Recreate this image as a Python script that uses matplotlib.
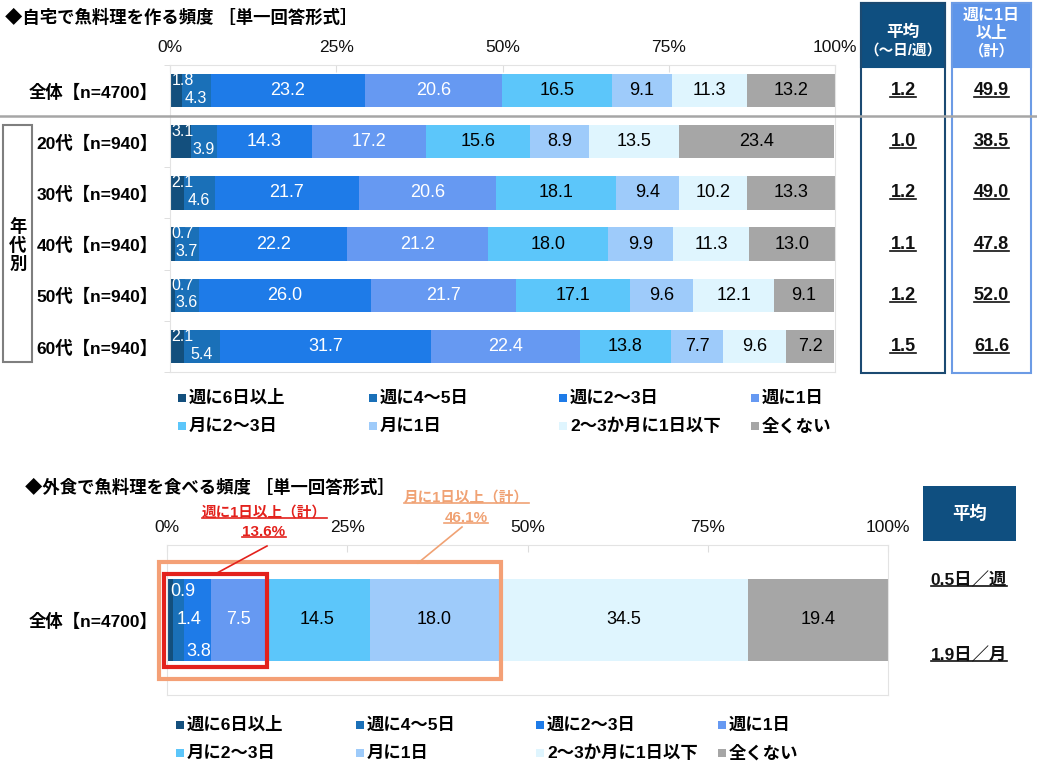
import numpy as np
import matplotlib
matplotlib.use('Agg')
import matplotlib.pyplot as plt
from matplotlib.patches import Rectangle
from matplotlib.lines import Line2D

plt.rcParams['font.family'] = ['Liberation Sans', 'Noto Sans CJK JP', 'DejaVu Sans']

# --- data ---
categories = ['週に6日以上', '週に4～5日', '週に2～3日', '週に1日',
              '月に2～3日', '月に1日', '2～3か月に1日以下', '全くない']
colors = ['#134F7D', '#1A70B8', '#1E7BE8', '#6699F2',
          '#5CC6FA', '#9ECBFA', '#DFF5FE', '#A6A6A6']

home_groups = ['全体【n=4700】', '20代【n=940】', '30代【n=940】',
               '40代【n=940】', '50代【n=940】', '60代【n=940】']
home_values = np.array([
    [1.8, 4.3, 23.2, 20.6, 16.5, 9.1, 11.3, 13.2],
    [3.1, 3.9, 14.3, 17.2, 15.6, 8.9, 13.5, 23.4],
    [2.1, 4.6, 21.7, 20.6, 18.1, 9.4, 10.2, 13.3],
    [0.7, 3.7, 22.2, 21.2, 18.0, 9.9, 11.3, 13.0],
    [0.7, 3.6, 26.0, 21.7, 17.1, 9.6, 12.1, 9.1],
    [2.1, 5.4, 31.7, 22.4, 13.8, 7.7, 9.6, 7.2],
])
home_avg = ['1.2', '1.0', '1.2', '1.1', '1.2', '1.5']
home_weekly = ['49.9', '38.5', '49.0', '47.8', '52.0', '61.6']

eat_group = ['全体【n=4700】']
eat_values = np.array([0.9, 1.4, 3.8, 7.5, 14.5, 18.0, 34.5, 19.4])
eat_weekly_total = 13.6
eat_monthly_total = 46.1
eat_avg = ['0.5日／週', '1.9日／月']

ticks = [0, 25, 50, 75, 100]
tick_labels = ['0%', '25%', '50%', '75%', '100%']

W, H = 1037, 770
fig = plt.figure(figsize=(W / 100, H / 100), dpi=100)


def fx(x):
    return x / W


def fy(y):
    return 1 - y / H


def ftext(x, y, s, **kw):
    return fig.text(fx(x), fy(y), s, **kw)


def frect(x0, y0, x1, y1, **kw):
    r = Rectangle((fx(x0), fy(y1)), fx(x1) - fx(x0), (y1 - y0) / H,
                  transform=fig.transFigure, **kw)
    fig.add_artist(r)
    return r


def fline(x0, y0, x1, y1, **kw):
    fig.add_artist(Line2D([fx(x0), fx(x1)], [fy(y0), fy(y1)],
                          transform=fig.transFigure, **kw))


underlined = []


def style_axis(ax):
    for s in ax.spines.values():
        s.set_color('#E3E3E3')
        s.set_linewidth(0.8)
    ax.set_xlim(0, 100)
    ax.xaxis.tick_top()
    ax.set_xticks(ticks)
    ax.set_xticklabels(tick_labels, fontsize=12.5, color='#111111')
    ax.tick_params(axis='x', direction='in', length=5, color='#DDDDDD', pad=7)


# --- top chart ---
ax1 = fig.add_axes([fx(170), fy(372), (835 - 170) / W, (372 - 65) / H])
style_axis(ax1)
y = np.arange(len(home_groups))
left = np.zeros(len(home_groups))
for i, cat in enumerate(categories):
    ax1.barh(y, home_values[:, i], left=left, height=0.65, color=colors[i],
             label=cat, zorder=2)
    tc = 'white' if i < 4 else 'black'
    for r in range(len(home_groups)):
        v = home_values[r, i]
        if i == 0:
            ax1.text(left[r] + 0.2, r - 0.2, f'{v:.1f}', ha='left', va='center',
                     color=tc, fontsize=11.5, zorder=3)
        elif i == 1:
            ax1.text(left[r] + v / 2, r + 0.15, f'{v:.1f}', ha='center', va='center',
                     color=tc, fontsize=11.5, zorder=3)
        else:
            ax1.text(left[r] + v / 2, r, f'{v:.1f}', ha='center', va='center',
                     color=tc, fontsize=13, zorder=3)
    left += home_values[:, i]
ax1.set_ylim(len(home_groups) - 0.5, -0.5)
ax1.set_yticks(y)
ax1.set_yticklabels(home_groups, fontsize=12.5, fontweight='bold')
ax1.set_yticks(np.arange(len(home_groups) + 1) - 0.5, minor=True)
ax1.tick_params(axis='y', which='major', length=0, pad=9)
ax1.tick_params(axis='y', which='minor', length=4, color='#D9D9D9')

ftext(5, 17, '◆自宅で魚料理を作る頻度 ［単一回答形式］', fontsize=12.5,
      fontweight='bold', va='center')

# group box
frect(3, 125, 32, 362, fill=False, edgecolor='#7F7F7F', lw=1.5)
ftext(18, 245, '年\n代\n別', ha='center', va='center', fontsize=12.5,
      fontweight='bold', linespacing=1.15)

# right-hand columns
col1 = (861, 945)
col2 = (952, 1031)
frect(col1[0], 3, col1[1], 67, facecolor='#0F4F80', edgecolor='#0F4F80', lw=1.5)
frect(col1[0], 3, col1[1], 373, fill=False, edgecolor='#1B4A72', lw=1.5)
frect(col2[0], 3, col2[1], 67, facecolor='#5E95EA', edgecolor='#5E95EA', lw=1.5)
frect(col2[0], 3, col2[1], 373, fill=False, edgecolor='#6C9BE5', lw=1.5)
ftext(sum(col1) / 2, 32, '平均', ha='center', va='center', color='white',
      fontsize=12, fontweight='bold')
ftext(sum(col1) / 2, 51, '（～日/週）', ha='center', va='center', color='white',
      fontsize=10.5, fontweight='bold')
ftext(sum(col2) / 2, 15, '週に1日', ha='center', va='center', color='white',
      fontsize=11.5, fontweight='bold')
ftext(sum(col2) / 2, 33, '以上', ha='center', va='center', color='white',
      fontsize=11.5, fontweight='bold')
ftext(sum(col2) / 2, 51, '（計）', ha='center', va='center', color='white',
      fontsize=11, fontweight='bold')

for r in range(len(home_groups)):
    ypx = 65 + (r + 0.5) * (372 - 65) / len(home_groups)
    underlined.append((ftext(sum(col1) / 2, ypx, home_avg[r], ha='center', va='center',
                             fontsize=13, fontweight='bold', color='#111111'), '#111111'))
    underlined.append((ftext(sum(col2) / 2, ypx, home_weekly[r], ha='center', va='center',
                             fontsize=13, fontweight='bold', color='#111111'), '#111111'))

# separator under 全体
fline(0, 116, W, 116, color='#A6A6A6', lw=1.8, zorder=5)


def legend_block(xs, ys):
    for i, cat in enumerate(categories):
        x = xs[i % 4]
        yy = ys[i // 4]
        frect(x - 4, yy - 4, x + 4, yy + 4, facecolor=colors[i], edgecolor='none')
        ftext(x + 7, yy, cat, ha='left', va='center', fontsize=12.5, fontweight='bold')


legend_block([182, 373, 563, 755], [398, 426])

# --- bottom chart ---
ax2 = fig.add_axes([fx(167), fy(695), (888 - 167) / W, (695 - 545) / H])
style_axis(ax2)
start = 0.0
for i, cat in enumerate(categories):
    v = eat_values[i]
    ax2.barh([0], [v], left=start, height=0.55, color=colors[i], zorder=2)
    tc = 'white' if i < 4 else 'black'
    if i < 3:
        ax2.text(start + 0.4, [-0.19, 0.0, 0.21][i], f'{v:.1f}', ha='left',
                 va='center', color=tc, fontsize=13, zorder=3)
    else:
        ax2.text(start + v / 2, 0, f'{v:.1f}', ha='center', va='center',
                 color=tc, fontsize=13, zorder=3)
    start += v
ax2.set_ylim(0.5, -0.5)
ax2.set_yticks([0])
ax2.set_yticklabels(eat_group, fontsize=12.5, fontweight='bold')
ax2.tick_params(axis='y', length=0, pad=7)

cum = np.cumsum(eat_values)
# highlight boxes
ax2.add_patch(Rectangle((-1.1, -0.39), cum[5] + 1.1 + 0.2, 0.78, fill=False,
                        edgecolor='#F4A076', lw=3, clip_on=False, zorder=4))
ax2.add_patch(Rectangle((-0.4, -0.31), cum[3] + 0.4 + 0.3, 0.62, fill=False,
                        edgecolor='#E3211C', lw=3, clip_on=False, zorder=5))

ftext(25, 487, '◆外食で魚料理を食べる頻度 ［単一回答形式］', fontsize=12.5,
      fontweight='bold', va='center')

underlined.append((ftext(264, 513, '週に1日以上（計）', ha='center', va='center',
                         fontsize=10.5, fontweight='bold', color='#E3211C'), '#E3211C'))
underlined.append((ftext(264, 532, f'{eat_weekly_total:.1f}%', ha='center', va='center',
                         fontsize=11, fontweight='bold', color='#E3211C'), '#E3211C'))
fline(267, 546, 217, 573, color='#E3211C', lw=1.2)

underlined.append((ftext(466, 498, '月に1日以上（計）', ha='center', va='center',
                         fontsize=10.5, fontweight='bold', color='#F0A274'), '#F0A274'))
underlined.append((ftext(466, 518, f'{eat_monthly_total:.1f}%', ha='center', va='center',
                         fontsize=11, fontweight='bold', color='#F0A274'), '#F0A274'))
fline(462, 527, 418, 563, color='#F0A274', lw=1.2)

frect(923, 486, 1016, 541, facecolor='#0F4F80', edgecolor='none')
ftext(969.5, 513, '平均', ha='center', va='center', color='white',
      fontsize=12.5, fontweight='bold')
underlined.append((ftext(969, 580, eat_avg[0], ha='center', va='center',
                         fontsize=12.5, fontweight='bold', color='#111111'), '#111111'))
underlined.append((ftext(969, 655, eat_avg[1], ha='center', va='center',
                         fontsize=12.5, fontweight='bold', color='#111111'), '#111111'))

legend_block([180, 360, 540, 722], [725, 753])

# underlines
fig.canvas.draw()
renderer = fig.canvas.get_renderer()
inv = fig.transFigure.inverted()
for t, c in underlined:
    bb = t.get_window_extent(renderer)
    (x0, y0), (x1, _) = inv.transform([[bb.x0, bb.y0 + 2], [bb.x1, bb.y0 + 2]])
    fig.add_artist(Line2D([x0, x1], [y0, y0], transform=fig.transFigure,
                          color=c, lw=1.2))

fig.savefig('out.png', dpi=100)
